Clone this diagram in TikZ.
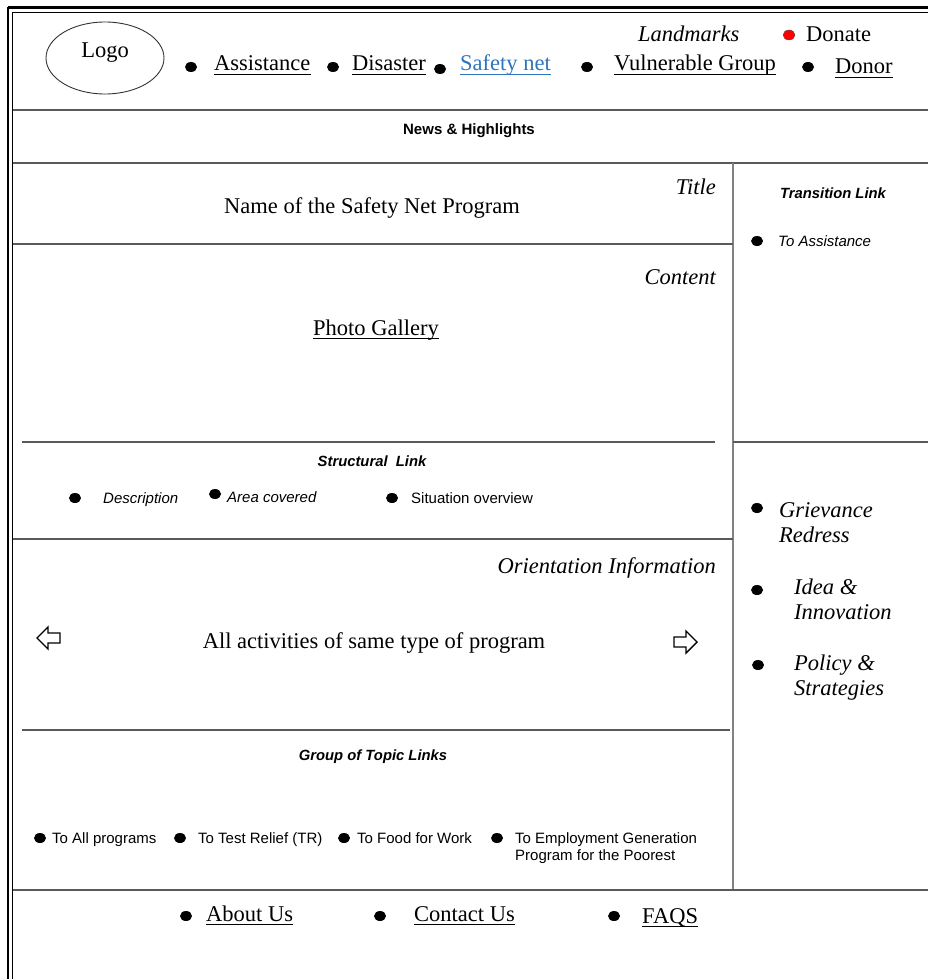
\documentclass[tikz,border=0pt]{standalone}
\usepackage{fontspec}
\usetikzlibrary{shapes.geometric}
\setmainfont{Liberation Serif}
\setsansfont{Liberation Sans}
\definecolor{linkblue}{RGB}{46,116,190}
\definecolor{rulegray}{RGB}{90,90,90}
\definecolor{colgray}{RGB}{130,130,130}
\begin{document}
\begin{tikzpicture}[x=1pt,y=-1pt,
  rule/.style={draw=rulegray, line width=1.3pt},
  colrule/.style={draw=colgray, line width=1.3pt},
  dot/.style={ellipse, fill=black, inner sep=0pt, minimum width=12pt, minimum height=10pt},
  reddot/.style={ellipse, fill=red, draw=black!70, line width=0.4pt, inner sep=0pt, minimum width=12pt, minimum height=10pt},
  serif/.style={inner sep=0pt, font=\fontsize{22.5}{24.5}\selectfont},
  iserif/.style={serif, font=\fontsize{22.5}{24.5}\selectfont\itshape},
  sans/.style={inner sep=0pt, font=\fontsize{15}{17}\sffamily},
  isans/.style={sans, font=\fontsize{15}{17}\sffamily\itshape},
  bisans/.style={sans, font=\fontsize{14.8}{17}\sffamily\bfseries\itshape},
  uline/.style={line width=1pt},
  blockarrow/.style={draw=black, line width=1.4pt, fill=white, line join=miter}]
\useasboundingbox (0,0) rectangle (928,979);
\clip (0,0) rectangle (928,979);

% outer double frame
\draw[line width=2.6pt] (8,7.5) -- (940,7.5);
\draw[line width=1pt] (12.5,12.5) -- (940,12.5);
\draw[line width=2.6pt] (8,7.5) -- (8,990);
\draw[line width=1pt] (12.5,12.5) -- (12.5,990);

% page grid
\draw[rule] (12.5,110) -- (928,110);
\draw[rule] (12.5,163) -- (928,163);
\draw[colrule] (733,163) -- (733,890);
\draw[rule] (12.5,244) -- (733,244);
\draw[rule] (22,442) -- (715,442);
\draw[rule] (733,442) -- (928,442);
\draw[rule] (12.5,539) -- (733,539);
\draw[rule] (22,730) -- (730,730);
\draw[rule] (12.5,890) -- (928,890);

% header
\node[draw=black!80, line width=0.9pt, ellipse, minimum width=118pt, minimum height=72pt] (logo) at (105,58) {};
\node[serif, anchor=base] (logotxt) at (105,58) {Logo};

\node[dot] (b1) at (191,67) {};
\node[serif, anchor=base west] (assist) at (214,71) {Assistance};
\node[dot] (b2) at (333,67) {};
\node[serif, anchor=base west] (disaster) at (352,71) {Disaster};
\node[dot] (b3) at (440,69) {};
\node[serif, anchor=base west, text=linkblue] (safety) at (460,71) {Safety net};
\node[dot] (b4) at (587,67) {};
\node[serif, anchor=base west] (vulner) at (614,71) {Vulnerable Group};
\node[dot] (b5) at (808,67) {};
\node[serif, anchor=base west] (donor) at (835,74) {Donor};
\node[iserif, anchor=base west] (landmarks) at (638,42) {Landmarks};
\node[reddot] (b6) at (789,35) {};
\node[serif, anchor=base west] (donate) at (806,42) {Donate};

\foreach \n in {assist,disaster,vulner,donor}
  \draw[uline] ([yshift=-3.5pt]\n.base west) -- ([yshift=-3.5pt]\n.base east);
\draw[uline, linkblue] ([yshift=-3.5pt]safety.base west) -- ([yshift=-3.5pt]safety.base east);

% news band
\node[sans, font=\fontsize{15}{17}\sffamily\bfseries, anchor=base] (news) at (469,135) {News \& Highlights};

% title block
\node[iserif, anchor=base east] (title) at (716,194) {Title};
\node[serif, anchor=base] (progname) at (372,213) {Name of the Safety Net Program};

% content block
\node[iserif, anchor=base east] (content) at (716,284) {Content};
\node[serif, anchor=base] (gallery) at (376,335) {Photo Gallery};
\draw[uline] ([yshift=-3.5pt]gallery.base west) -- ([yshift=-3.5pt]gallery.base east);

% structural links
\node[bisans, anchor=base] (struct) at (372,466) {Structural\ \ Link};
\node[dot] (s1) at (75,498) {};
\node[isans, anchor=base west] (desc) at (103,503) {Description};
\node[dot] (s2) at (215,494) {};
\node[isans, anchor=base west] (area) at (227,502) {Area covered};
\node[dot] (s3) at (392,498) {};
\node[sans, anchor=base west] (situ) at (411,503) {Situation overview};

% orientation block
\node[iserif, anchor=base east] (orient) at (716,573) {Orientation Information};
\node[serif, anchor=base] (allact) at (374,648) {All activities of same type of program};
\draw[blockarrow] (37,638) -- (48,627) -- (48,633) -- (60,633) -- (60,643) -- (48,643) -- (48,649) -- cycle;
\draw[blockarrow] (697,642) -- (686,631) -- (686,637) -- (674,637) -- (674,647) -- (686,647) -- (686,653) -- cycle;

% topic links
\node[bisans, anchor=base] (group) at (373,760) {Group of Topic Links};
\node[dot] (t1) at (40,838) {};
\node[sans, anchor=base west] (tall) at (52,843) {To All programs};
\node[dot] (t2) at (180,838) {};
\node[sans, anchor=base west] (ttr) at (198,843) {To Test Relief (TR)};
\node[dot] (t3) at (344,838) {};
\node[sans, anchor=base west] (tffw) at (357,843) {To Food for Work};
\node[dot] (t4) at (497,838) {};
\node[sans, anchor=base west, align=left] (temp) at (515,860) {To Employment Generation\\Program for the Poorest};

% right column
\node[bisans, anchor=base] (trans) at (833,198) {Transition Link};
\node[dot] (r1) at (757,241) {};
\node[isans, anchor=base west] (toassist) at (778,246) {To Assistance};

\node[dot] (r2) at (757,508) {};
\node[iserif, anchor=base west, align=left] (griev) at (779,542) {Grievance\\Redress};
\node[dot] (r3) at (757,590) {};
\node[iserif, anchor=base west, align=left] (idea) at (794,619) {Idea \&\\Innovation};
\node[dot] (r4) at (758,665) {};
\node[iserif, anchor=base west, align=left] (policy) at (794,695) {Policy \&\\Strategies};

% footer
\node[dot] (f1) at (186,916) {};
\node[serif, anchor=base west] (about) at (206,921) {About Us};
\node[dot] (f2) at (380,916) {};
\node[serif, anchor=base west] (contact) at (414,921) {Contact Us};
\node[dot] (f3) at (614,916) {};
\node[serif, anchor=base west] (faqs) at (642,923) {FAQS};
\foreach \n in {about,contact,faqs}
  \draw[uline] ([yshift=-3.5pt]\n.base west) -- ([yshift=-3.5pt]\n.base east);
\end{tikzpicture}
\end{document}
